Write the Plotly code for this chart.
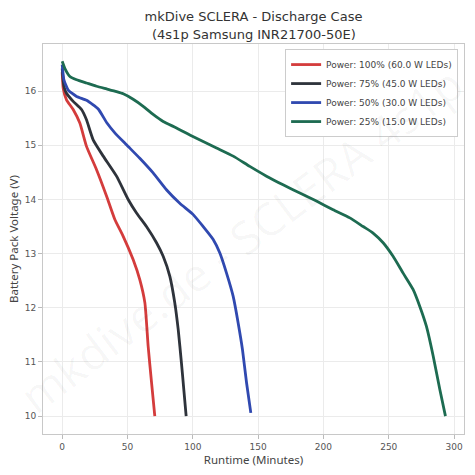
import plotly.graph_objects as go

# ---- data ----
t_100 = [0, 0.8, 3.3, 8.4, 13.5, 18.6, 26.3, 34.0, 40.3, 46.7, 54.3, 59.4, 63.3, 65.8, 68.4, 70.9]
v_100 = [16.35, 16.05, 15.84, 15.66, 15.41, 14.98, 14.55, 14.06, 13.63, 13.32, 12.89, 12.52, 12.09, 11.29, 10.62, 10.0]

t_75 = [0, 1.3, 3.3, 8.4, 14.8, 18.6, 23.7, 31.4, 41.6, 50.5, 56.9, 64.5, 72.2, 77.3, 82.4, 86.2, 88.8, 91.3, 93.1, 94.9]
v_75 = [16.42, 16.09, 15.96, 15.81, 15.66, 15.47, 15.10, 14.80, 14.43, 14.00, 13.75, 13.50, 13.20, 12.95, 12.58, 12.09, 11.60, 10.98, 10.49, 10.0]

t_50 = [0, 1.3, 4.6, 11.0, 18.6, 27.6, 34.0, 40.3, 49.2, 59.4, 69.6, 79.8, 90.0, 100.3, 107.9, 115.6, 120.7, 125.8, 130.9, 134.7, 138.0, 141.1, 144.4]
v_50 = [16.49, 16.21, 16.02, 15.90, 15.83, 15.67, 15.42, 15.23, 15.01, 14.76, 14.49, 14.18, 13.93, 13.72, 13.50, 13.26, 13.01, 12.64, 12.21, 11.72, 11.23, 10.62, 10.06]

t_25 = [0, 2.0, 5.9, 11.0, 18.6, 26.3, 34.0, 41.6, 46.7, 54.3, 62.0, 69.6, 77.3, 87.5, 97.7, 107.9, 118.1, 130.9,
        143.6, 156.4, 169.1, 181.9, 194.6, 207.4, 220.2, 230.4, 238.0, 245.7, 253.3, 261.0, 268.6, 273.7, 278.8,
        284.0, 289.1, 293.4]
v_25 = [16.55, 16.42, 16.27, 16.21, 16.15, 16.09, 16.04, 15.99, 15.95, 15.85, 15.72, 15.57, 15.44, 15.32, 15.19,
        15.07, 14.95, 14.80, 14.61, 14.43, 14.27, 14.12, 13.97, 13.81, 13.66, 13.50, 13.38, 13.20, 12.95, 12.64,
        12.34, 12.03, 11.66, 11.11, 10.49, 10.0]

series_names = ["Power: 100% (60.0 W LEDs)", "Power: 75% (45.0 W LEDs)",
                "Power: 50% (30.0 W LEDs)", "Power: 25% (15.0 W LEDs)"]
series_t = [t_100, t_75, t_50, t_25]
series_v = [v_100, v_75, v_50, v_25]
colors = ["#d43c3c", "#2e333b", "#3049b0", "#1d6b51"]

x_ticks = [0, 50, 100, 150, 200, 250, 300]
y_ticks = [10, 11, 12, 13, 14, 15, 16]

title_line1 = "mkDive SCLERA - Discharge Case"
title_line2 = "(4s1p Samsung INR21700-50E)"

fig = go.Figure()
for name, t, v, c in zip(series_names, series_t, series_v, colors):
    fig.add_trace(go.Scatter(x=t, y=v, mode="lines", name=name,
                             line=dict(color=c, width=2.8, shape="spline", smoothing=0.5)))

axis_common = dict(showgrid=True, gridcolor="#ebebeb", gridwidth=1, zeroline=False,
                   showline=True, linecolor="#c8c8c8", linewidth=1, mirror=True,
                   ticks="outside", ticklen=4, tickcolor="#bbbbbb",
                   tickfont=dict(family="DejaVu Sans", size=9, color="#555555"))

title_font = dict(family="DejaVu Sans", size=13, color="#333333")

fig.update_layout(
    width=475, height=475,
    margin=dict(l=43, r=11, t=44, b=41),
    paper_bgcolor="white", plot_bgcolor="white",
    title=dict(text=title_line1, x=0.5, xref="paper", xanchor="center",
               yref="container", y=1 - 16 / 475, yanchor="middle", font=title_font),
    xaxis=dict(range=[-14.7, 307.6], tickvals=x_ticks,
               title=dict(text="Runtime (Minutes)", standoff=2,
                          font=dict(family="Noto Sans", size=11.5, color="#444444")),
               **axis_common),
    yaxis=dict(range=[9.67, 16.87], tickvals=y_ticks,
               title=dict(text="Battery Pack Voltage (V)", standoff=3,
                          font=dict(family="Noto Sans", size=11.5, color="#444444")),
               **axis_common),
    legend=dict(x=0.986, y=0.987, xanchor="right", yanchor="top",
                bgcolor="white", bordercolor="#cccccc", borderwidth=1,
                font=dict(family="DejaVu Sans", size=9, color="#444444")),
    showlegend=True,
)

fig.add_annotation(text=title_line2, xref="paper", yref="paper",
                   x=0.5, y=1 + (44 - 34) / 390, yanchor="middle", showarrow=False,
                   font=title_font)

fig.add_annotation(text="mkdive.de - SCLERA 4s1p", xref="paper", yref="paper",
                   x=0.47, y=0.5, showarrow=False, textangle=-37,
                   font=dict(family="Noto Sans", size=46, color="rgba(0,0,0,0.03)"))

fig.write_html("out.html")
